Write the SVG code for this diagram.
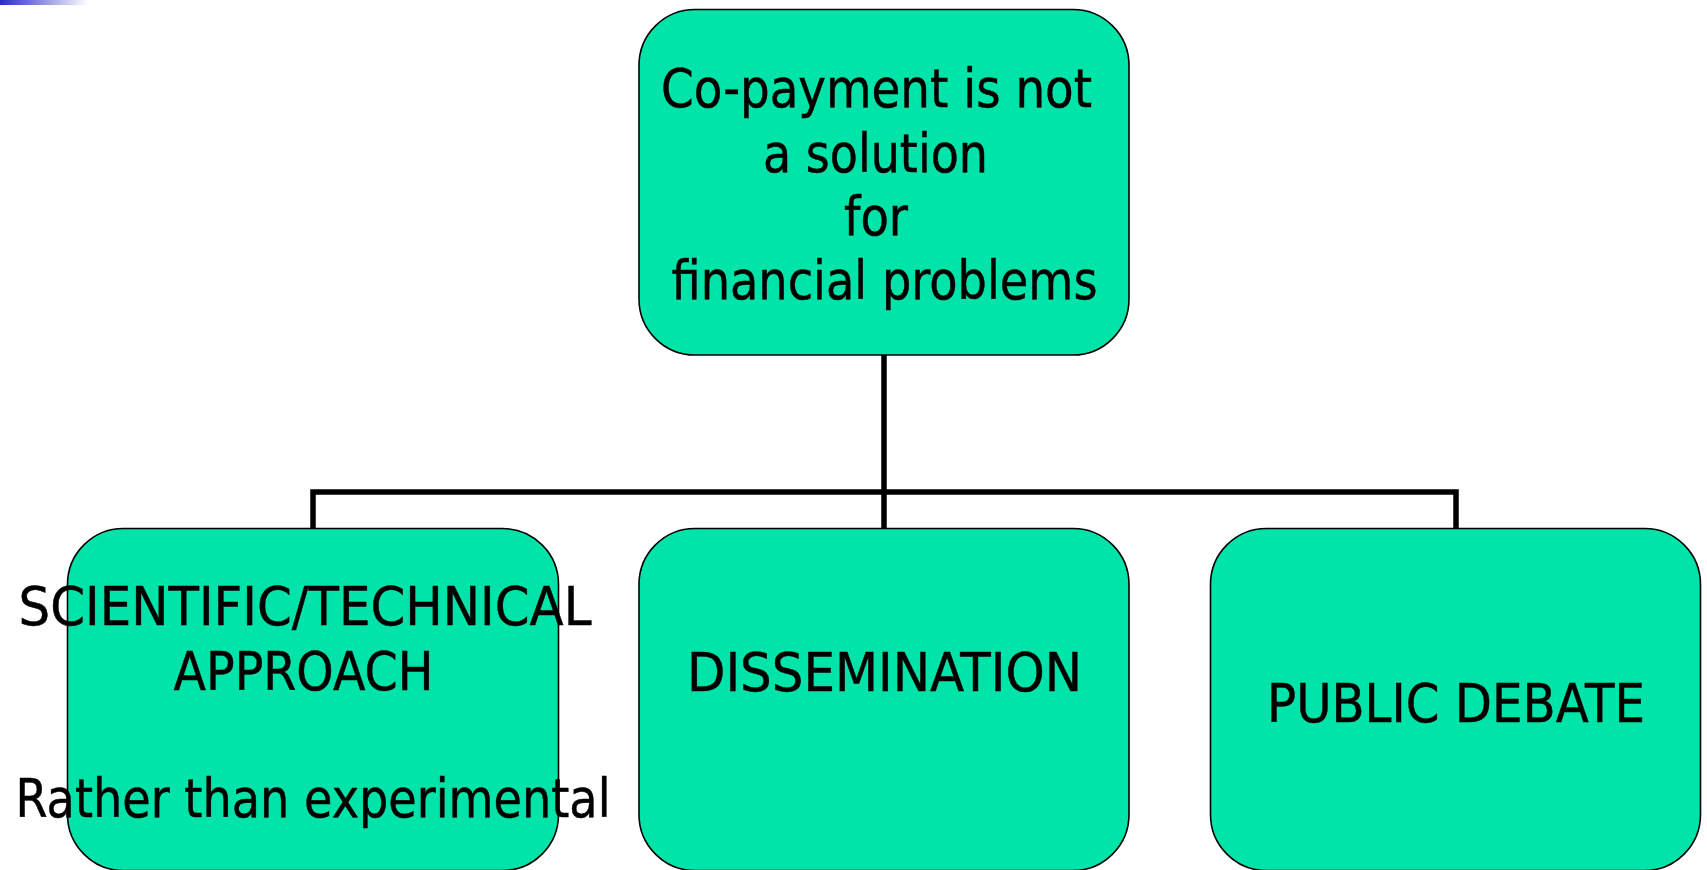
<svg xmlns="http://www.w3.org/2000/svg" width="1707" height="870" viewBox="0 0 1707 870">
  <style>
    .node { fill: #00E4A9; stroke: #000; stroke-width: 1.6; }
    .lbl { font-family: "DejaVu Sans", "Liberation Sans", sans-serif; font-size: 53px; fill: #000; stroke: #000; stroke-width: 0.5; }
    .conn { fill: none; stroke: #000; stroke-width: 5.5; stroke-linejoin: miter; }
  </style>
  <defs>
    <linearGradient id="bar" x1="0" y1="0" x2="1" y2="0">
      <stop offset="0" stop-color="#2a2ac8"/>
      <stop offset="1" stop-color="#ffffff"/>
    </linearGradient>
  </defs>
  <rect x="0" y="0" width="1707" height="870" fill="#fff"/>
  <rect x="0" y="0" width="88" height="5" fill="url(#bar)"/>

  <g id="connectors">
    <path class="conn" d="M884 355 V492"/>
    <path class="conn" d="M313 528 V492 H1456 V528"/>
    <path class="conn" d="M884 492 V528"/>
  </g>

  <g id="node-top">
    <rect class="node" x="639" y="9.5" width="490" height="345.5" rx="56" ry="56"/>
    <text class="lbl" x="661" y="107" textLength="431" lengthAdjust="spacingAndGlyphs">Co-payment is not</text>
    <text class="lbl" x="763" y="171.5" textLength="225" lengthAdjust="spacingAndGlyphs">a solution</text>
    <text class="lbl" x="844" y="235" textLength="64" lengthAdjust="spacingAndGlyphs">for</text>
    <text class="lbl" x="671.5" y="298.5" textLength="426" lengthAdjust="spacingAndGlyphs">financial problems</text>
  </g>

  <g id="node-scientific">
    <rect class="node" x="67.5" y="528.5" width="491" height="342" rx="56" ry="56"/>
    <text class="lbl" x="18.5" y="625" textLength="573" lengthAdjust="spacingAndGlyphs">SCIENTIFIC/TECHNICAL</text>
    <text class="lbl" x="173.5" y="690" textLength="260" lengthAdjust="spacingAndGlyphs">APPROACH</text>
    <text class="lbl" x="15.5" y="817" textLength="595" lengthAdjust="spacingAndGlyphs">Rather than experimental</text>
  </g>

  <g id="node-dissemination">
    <rect class="node" x="639" y="528.5" width="490" height="342" rx="56" ry="56"/>
    <text class="lbl" x="687" y="690.5" textLength="395" lengthAdjust="spacingAndGlyphs">DISSEMINATION</text>
  </g>

  <g id="node-public">
    <rect class="node" x="1210.5" y="528.5" width="490" height="342" rx="56" ry="56"/>
    <text class="lbl" x="1267" y="722" textLength="378" lengthAdjust="spacingAndGlyphs">PUBLIC DEBATE</text>
  </g>
</svg>
